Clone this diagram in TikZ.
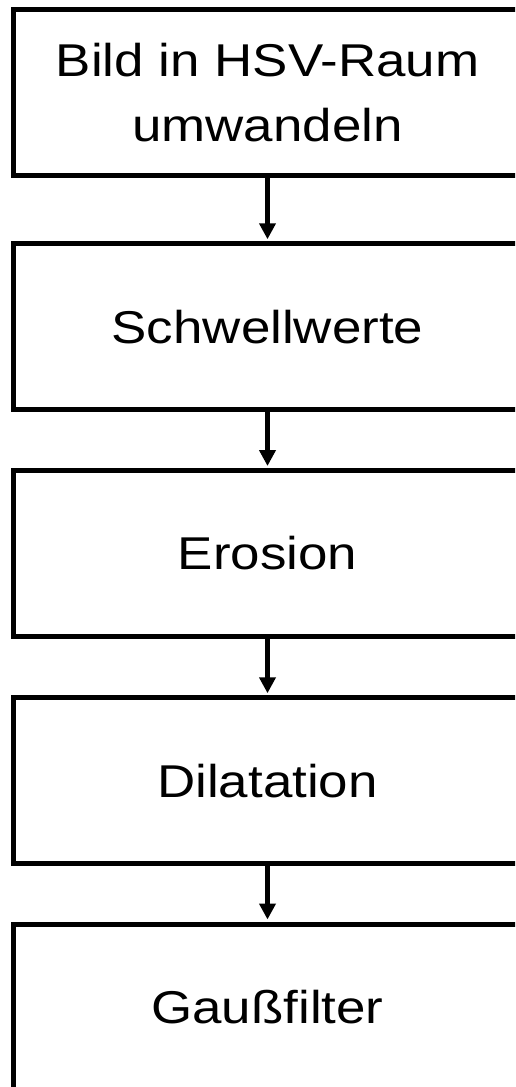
\documentclass[tikz,border=0pt]{standalone}
\usepackage{fontspec}
\setmainfont{Liberation Sans}
\usetikzlibrary{arrows.meta}
\newcommand{\wide}[1]{\scalebox{1.15}[1]{#1}}
\tikzset{
  stage/.style={draw=black, line width=5pt, rectangle, inner sep=0pt,
    minimum width=508pt, minimum height=166pt, align=center,
    font=\fontsize{46}{65}\selectfont},
  flow/.style={line width=5pt, -{Triangle[width=16pt,length=16pt]}, shorten >=2pt}
}
\begin{document}
\begin{tikzpicture}[x=1pt, y=-1pt]
  \useasboundingbox (0,0) rectangle (515,1087);
  \clip (0,0) rectangle (515,1087);
  \fill[white] (0,0) rectangle (515,1087);
  % processing stages, top to bottom
  \node[stage] (hsv)    at (267.5, 92.5)   {\wide{Bild in HSV-Raum}\\\wide{umwandeln}};
  \node[stage] (thresh) at (267.5, 326.75) {\wide{Schwellwerte}};
  \node[stage] (erode)  at (267.5, 553.5)  {\wide{Erosion}};
  \node[stage] (dilate) at (267.5, 780.75) {\wide{Dilatation}};
  \node[stage] (gauss)  at (267.5, 1007)   {\wide{Gaußfilter}};
  % connectors
  \draw[flow] (hsv.south)    -- (thresh.north);
  \draw[flow] (thresh.south) -- (erode.north);
  \draw[flow] (erode.south)  -- (dilate.north);
  \draw[flow] (dilate.south) -- (gauss.north);
\end{tikzpicture}
\end{document}
